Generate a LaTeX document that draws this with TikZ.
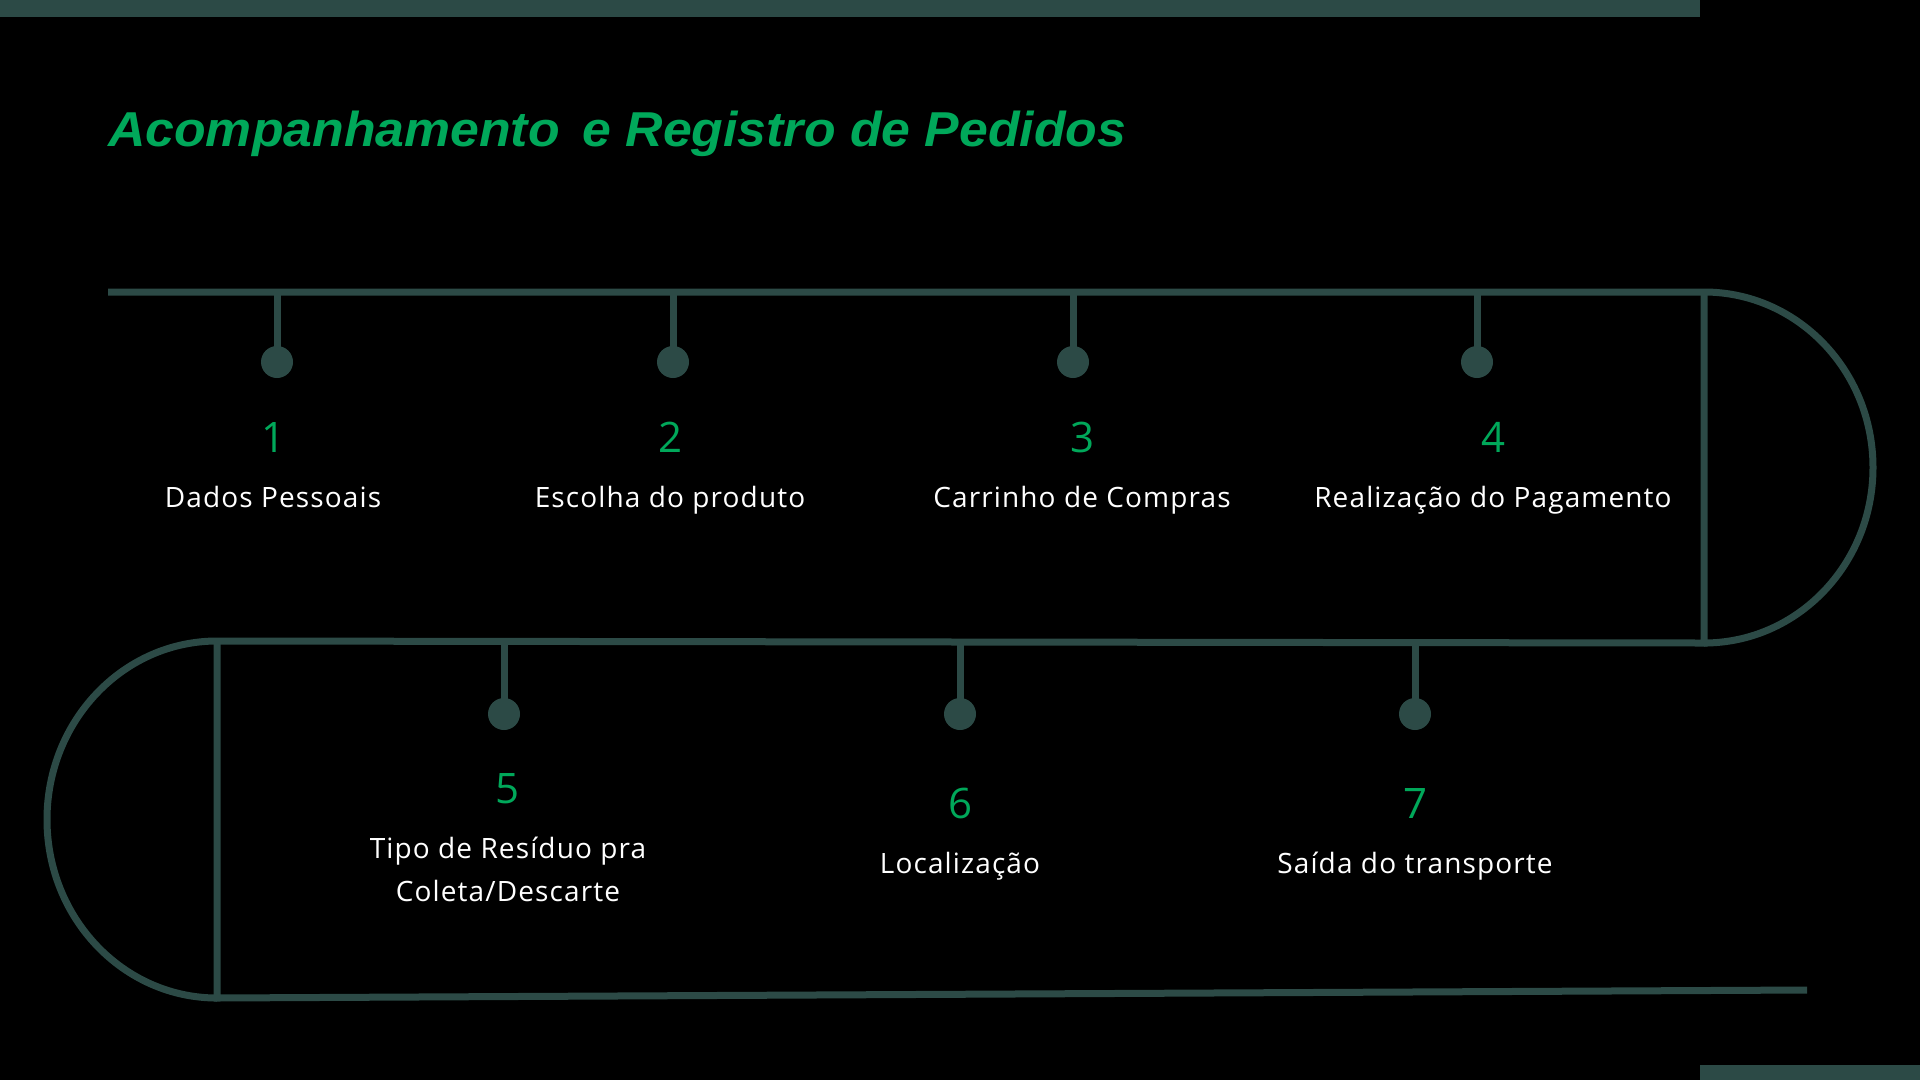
\documentclass[tikz,border=0pt]{standalone}
\usepackage{fontspec}
\usepackage{graphicx}
\setmainfont{Open Sans}
\newfontfamily\labelfont[LetterSpace=4]{Open Sans}
\newfontfamily\titlefont{Liberation Sans}
\definecolor{track}{HTML}{2C4A46}
\definecolor{accent}{HTML}{00A85A}
\begin{document}
\begin{tikzpicture}[x=1pt,y=-1pt,
  trackline/.style={draw=track,line width=7pt},
  dotnode/.style={circle,fill=track,minimum size=32pt,inner sep=0pt},
  numlabel/.style={text=accent,font=\fontsize{42}{50}\selectfont,inner sep=0pt},
  steplabel/.style={text=white,font=\labelfont\fontsize{28}{43}\selectfont,align=center,inner sep=0pt,anchor=base}]
\useasboundingbox (0,0) rectangle (1920,1080);
\fill[black] (0,0) rectangle (1920,1080);
% bars
\fill[track] (0,0) rectangle (1700,17);
\fill[track] (1700,1065) rectangle (1920,1080);
% title
\node[anchor=base west,inner sep=0pt,text=accent] (title) at (108,146)
  {\resizebox{1018pt}{\height}{\titlefont\fontsize{49}{56}\selectfont\bfseries\itshape Acompanhamento\hspace{8pt} e Registro de Pedidos}};
% track
\coordinate (a0) at (108,292);
\coordinate (a1) at (1704,292);
\coordinate (a2) at (1704,643);
\coordinate (b1) at (217,641);
\coordinate (b2) at (217,998);
\coordinate (b3) at (1807,990);
\draw[trackline] (a0) -- (a1) arc[start angle=-90,end angle=90,x radius=169,y radius=175.5];
\draw[trackline] (a1) -- (a2) -- (b1) arc[start angle=-90,end angle=-270,x radius=170,y radius=178.5];
\draw[trackline] (b1) -- (b2) -- (b3);
% top row
\foreach \i/\x in {1/277,2/673,3/1073,4/1477}{
  \coordinate (t\i) at (\x,292);
  \node[dotnode] (d\i) at (\x,362) {};
  \draw[track,line width=7pt] (t\i) -- (d\i.center);
}
\node[numlabel] (n1) at (274,437) {1};
\node[numlabel] (n2) at (670,437) {2};
\node[numlabel] (n3) at (1082,437) {3};
\node[numlabel] (n4) at (1493,437) {4};
\node[steplabel] (l1) at (273,507) {Dados Pessoais};
\node[steplabel] (l2) at (670,507) {Escolha do produto};
\node[steplabel] (l3) at (1082,507) {Carrinho de Compras};
\node[steplabel] (l4) at (1493,507) {Realização do Pagamento};
% bottom row
\foreach \i/\x in {5/504,6/960,7/1415}{
  \coordinate (t\i) at (\x,642);
  \node[dotnode] (d\i) at (\x,714) {};
  \draw[track,line width=7pt] (t\i) -- (d\i.center);
}
\node[numlabel] (n5) at (508,789) {5};
\node[numlabel] (n6) at (960,803) {6};
\node[numlabel] (n7) at (1415,803) {7};
\node[steplabel] (l5) at (508,901) {Tipo de Resíduo pra\\Coleta/Descarte};
\node[steplabel] (l6) at (960,873) {Localização};
\node[steplabel] (l7) at (1415,873) {Saída do transporte};
\end{tikzpicture}
\end{document}
